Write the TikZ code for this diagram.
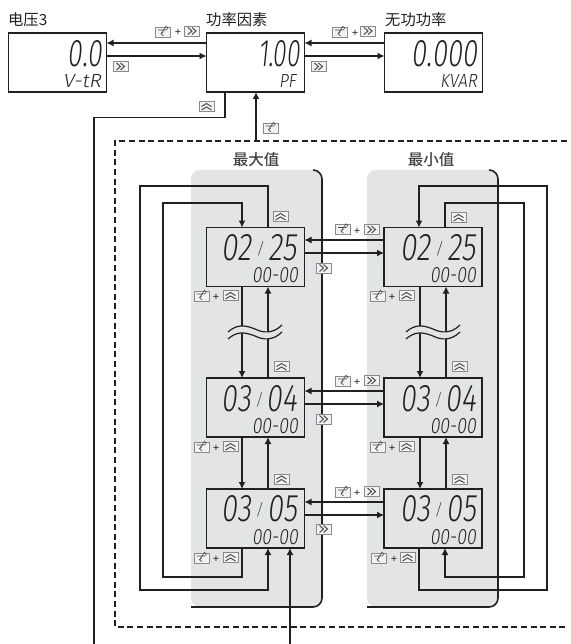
\documentclass[tikz,border=0pt]{standalone}
\usepackage{fontspec}
\setmainfont{Liberation Sans}
\newfontfamily\cjk{Noto Sans CJK SC}
\newfontfamily\cjkm{Noto Sans CJK SC Medium}
\newfontfamily\seg[FakeSlant=0.16]{Fira Sans Light}
\usetikzlibrary{arrows.meta,calc}
\definecolor{panelc}{HTML}{E3E4E6}
\definecolor{inkc}{HTML}{231F20}
\definecolor{keyc}{HTML}{8A8A8A}
\newcommand\segtext[6]{\node[segt] (#1) at (#2,#3) {\resizebox{#4pt}{#5pt}{\seg #6}};}
\newcommand\sla{\,\raisebox{.3ex}{\scalebox{.42}{/}}\,}
\newcommand\plusat[2]{\node[plust] at (#1,#2) {+};}
\newcommand\wavebreak[2]{%
  \fill[panelc] (#1-27,#2+3) .. controls (#1-18,#2-5) and (#1-10,#2-4) .. (#1,#2) .. controls (#1+8,#2+4) and (#1+18,#2+5) .. (#1+27,#2-4)
    -- (#1+27,#2+3) .. controls (#1+18,#2+12) and (#1+8,#2+11) .. (#1,#2+7) .. controls (#1-10,#2+3) and (#1-18,#2+2) .. (#1-27,#2+10) -- cycle;
  \draw[wire] (#1-27,#2+3) .. controls (#1-18,#2-5) and (#1-10,#2-4) .. (#1,#2) .. controls (#1+8,#2+4) and (#1+18,#2+5) .. (#1+27,#2-4);
  \draw[wire] (#1-27,#2+10) .. controls (#1-18,#2+2) and (#1-10,#2+3) .. (#1,#2+7) .. controls (#1+8,#2+11) and (#1+18,#2+12) .. (#1+27,#2+3);
}
\tikzset{
  wire/.style={draw=inkc,line width=1.2pt},
  arr/.style={wire,-{Latex[length=7pt,width=7pt]}},
  dispwhite/.style={draw=inkc,line width=1.4pt,fill=white,minimum width=98pt,minimum height=59pt,inner sep=0,outer sep=0},
  dispgray/.style={dispwhite,fill=panelc},
  segt/.style={anchor=south east,inner sep=0,outer sep=0,text=inkc},
  plust/.style={inner sep=0,font=\fontsize{11}{11}\selectfont,text=inkc},
  titlet/.style={anchor=west,inner sep=0,font=\cjk\fontsize{15.3}{16}\selectfont,text=inkc},
  headt/.style={inner sep=0,font=\cjkm\fontsize{15.5}{16}\selectfont,text=inkc!85},
  keybox/.style={draw=keyc,line width=.7pt,fill=white!95!black},
  keyline/.style={draw=inkc!80,line width=.6pt},
  pics/enterkey/.style={code={
    \draw[keybox] (-7.5,-5) rectangle (7.5,5);
    \draw[keyline] (-5,-2) -- (3,-2) arc (90:-90:1.9) -- (-2,1.8);
    \draw[keyline] (0.5,-.3) -- (-2,1.8) -- (0.5,3.8);
  }},
  pics/rightkey/.style={code={
    \draw[keybox] (-7.5,-5) rectangle (7.5,5);
    \draw[keyline,line width=1pt] (-4,-3.5) -- (0,0) -- (-4,3.5);
    \draw[keyline,line width=1pt] (0,-3.5) -- (4,0) -- (0,3.5);
  }},
  pics/upkey/.style={code={
    \draw[keybox] (-7.5,-5) rectangle (7.5,5);
    \draw[keyline,line width=1pt] (-5,0) -- (0,-3) -- (5,0);
    \draw[keyline,line width=1pt] (-5,3.5) -- (0,.5) -- (5,3.5);
  }},
}
\begin{document}
\begin{tikzpicture}[x=1pt,y=-1pt]
\useasboundingbox (0,0) rectangle (570,644);
% panels
\fill[panelc,rounded corners=9pt] (191,170) rectangle (322,607);
\fill[panelc,rounded corners=9pt] (367,170) rectangle (498,607);
\draw[inkc,line width=1.6pt,rounded corners=9pt] (313,170) -- (322,170) -- (322,607) -- (191,607);
\draw[inkc,line width=1.6pt,rounded corners=9pt] (489,170) -- (498,170) -- (498,607) -- (367,607);
% dashed frame
\draw[inkc,line width=1.2pt,dash pattern=on 6pt off 3.6pt] (567,141) -- (115,141) -- (115,627) -- (567,627);
% display boxes
\node[dispwhite] (v) at (57.5,62.5) {};
\node[dispwhite] (pf) at (255.5,62.5) {};
\node[dispwhite] (kv) at (433.5,62.5) {};
\node[dispgray] (maxA) at (255.5,257) {};
\node[dispgray] (maxB) at (255.5,407.5) {};
\node[dispgray] (maxC) at (255.5,518.5) {};
\node[dispgray] (minA) at (433,257) {};
\node[dispgray] (minB) at (433,407.5) {};
\node[dispgray] (minC) at (433,518.5) {};
% guide coordinates
\coordinate (xa) at (242,0);
\coordinate (xb) at (268,0);
\coordinate (xc) at (420,0);
\coordinate (xd) at (446,0);
\coordinate (xe) at (290,644);
\coordinate (freeL) at (94,644);
\coordinate (dashT) at (256,141);
% top row connectors
\draw[arr] (pf.west |- 0,43) -- (v.east |- 0,43);
\draw[arr] (v.east |- 0,56) -- (pf.west |- 0,56);
\draw[arr] (kv.west |- 0,43) -- (pf.east |- 0,43);
\draw[arr] (pf.east |- 0,56) -- (kv.west |- 0,56);
\draw[wire] (pf.south -| 225,0) -- (225,117.5) -- (94,117.5) -- (freeL);
\draw[arr] (dashT) -- (dashT |- pf.south);
\draw[arr] (xe) -- (xe |- maxC.south);
% max column
\draw[arr] (xa |- maxA.south) -- (xa |- maxB.north);
\draw[arr] (xb |- maxB.north) -- (xb |- maxA.south);
\draw[arr] (xa |- maxB.south) -- (xa |- maxC.north);
\draw[arr] (xb |- maxC.north) -- (xb |- maxB.south);
\draw[wire,-{Latex[length=7pt,width=7pt]}] (xb |- maxA.north) -- (268,186) -- (140,186) -- (140,590) -- (268,590) -- (xb |- maxC.south);
\draw[wire,{Latex[length=7pt,width=7pt]}-] (xa |- maxA.north) -- (242,203) -- (163,203) -- (163,577) -- (242,577) -- (xa |- maxC.south);
% min column
\draw[arr] (xc |- minA.south) -- (xc |- minB.north);
\draw[arr] (xd |- minB.north) -- (xd |- minA.south);
\draw[arr] (xc |- minB.south) -- (xc |- minC.north);
\draw[arr] (xd |- minC.north) -- (xd |- minB.south);
\draw[wire,{Latex[length=7pt,width=7pt]}-] (419,0 |- minA.north) -- (419,186) -- (547,186) -- (547,590) -- (419,590) -- (419,0 |- minC.south);
\draw[wire,-{Latex[length=7pt,width=7pt]}] (445,0 |- minA.north) -- (445,203) -- (524,203) -- (524,577) -- (445,577) -- (445,0 |- minC.south);
% horizontal pairs
\foreach \a/\b/\ya/\yb in {maxA/minA/240/253,maxB/minB/391/404,maxC/minC/502/515}{
  \draw[arr] (\b.west |- 0,\ya) -- (\a.east |- 0,\ya);
  \draw[arr] (\a.east |- 0,\yb) -- (\b.west |- 0,\yb);
}
% wave breaks
\wavebreak{255}{329}
\wavebreak{433}{329}
% titles
\node[titlet] (t1) at (8,20) {电压3};
\node[titlet] (t2) at (206,20) {功率因素};
\node[titlet] (t3) at (385,20) {无功功率};
\node[headt] (t4) at (256,160) {最大值};
\node[headt] (t5) at (431,160) {最小值};
% display text
\segtext{v1}{102}{67}{34}{26}{0.0}
\segtext{v2}{101}{88}{38}{13}{V-tR}
\segtext{p1}{300}{67}{42}{26}{1.00}
\segtext{p2}{296}{88}{17}{13}{PF}
\segtext{k1}{477}{67}{65}{26}{0.000}
\segtext{k2}{477}{88}{37}{13}{KVAR}
\segtext{a1}{297}{261}{75}{26}{02\sla 25}
\segtext{a2}{298}{283}{46}{15}{00-00}
\segtext{b1}{297}{412}{75}{26}{03\sla 04}
\segtext{b2}{298}{434}{46}{15}{00-00}
\segtext{c1}{297}{522}{75}{26}{03\sla 05}
\segtext{c2}{298}{545}{46}{15}{00-00}
\segtext{d1}{476}{261}{75}{26}{02\sla 25}
\segtext{d2}{476}{283}{46}{15}{00-00}
\segtext{e1}{476}{412}{75}{26}{03\sla 04}
\segtext{e2}{476}{434}{46}{15}{00-00}
\segtext{f1}{476}{522}{75}{26}{03\sla 05}
\segtext{f2}{476}{545}{46}{15}{00-00}
% keys, top row
\pic at (163,32) {enterkey}; \plusat{178}{32} \pic at (192,31) {rightkey};
\pic at (340,32) {enterkey}; \plusat{355}{33} \pic at (368,31) {rightkey};
\pic at (120.5,66.5) {rightkey};
\pic at (318.5,66.5) {rightkey};
\pic at (206.5,106.5) {upkey};
\pic at (270.5,128) {enterkey};
% keys, max column
\pic at (280.5,216.5) {upkey};
\pic at (201.5,296) {enterkey}; \plusat{216}{297} \pic at (230.5,295.5) {upkey};
\pic at (281.5,366.5) {upkey};
\pic at (201.5,447) {enterkey}; \plusat{216}{448} \pic at (230.5,446.5) {upkey};
\pic at (281.5,479) {upkey};
\pic at (201.5,558) {enterkey}; \plusat{216}{559} \pic at (230.5,557.5) {upkey};
\pic at (323.5,268) {rightkey};
\pic at (323.5,419) {rightkey};
\pic at (323.5,529) {rightkey};
% keys, min column
\pic at (343,229.5) {enterkey}; \plusat{357}{231} \pic at (371.5,229.5) {rightkey};
\pic at (343,381) {enterkey}; \plusat{357}{382} \pic at (371.5,380.5) {rightkey};
\pic at (343,492) {enterkey}; \plusat{357}{493} \pic at (371.5,491.5) {rightkey};
\pic at (458.5,217.5) {upkey};
\pic at (377.5,296) {enterkey}; \plusat{392}{297} \pic at (406.5,295.5) {upkey};
\pic at (459.5,366.5) {upkey};
\pic at (377.5,447) {enterkey}; \plusat{392}{448} \pic at (406.5,446.5) {upkey};
\pic at (459.5,479.5) {upkey};
\pic at (379,558) {enterkey}; \plusat{394}{559} \pic at (407.5,557.5) {upkey};
\end{tikzpicture}
\end{document}
